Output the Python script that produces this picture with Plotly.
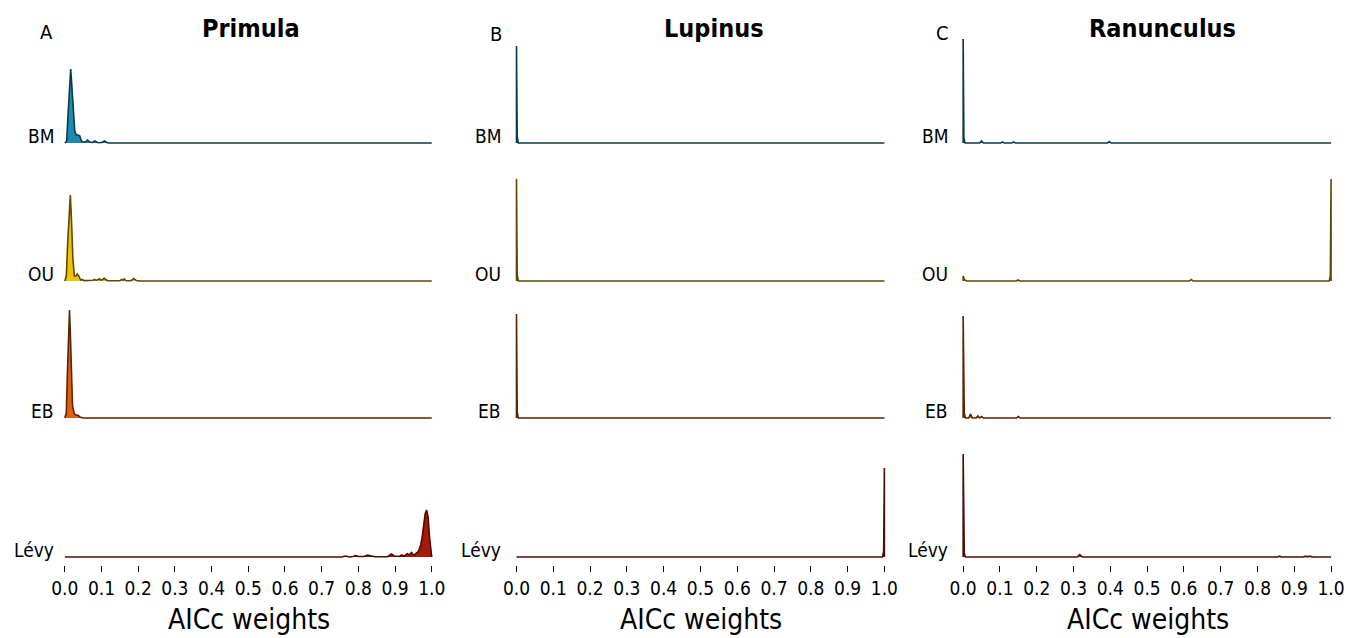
import plotly.graph_objects as go

# ---------------- data (AICc weight densities, scaled) ----------------
genera = ["Primula", "Lupinus", "Ranunculus"]
panel_letters = ["A", "B", "C"]
models = ["BM", "OU", "EB", "Lévy"]
tick_vals = [0.0, 0.1, 0.2, 0.3, 0.4, 0.5, 0.6, 0.7, 0.8, 0.9, 1.0]
tick_text = ["0.0", "0.1", "0.2", "0.3", "0.4", "0.5", "0.6", "0.7", "0.8", "0.9", "1.0"]

# Primula
primula_bm_x = [0.000, 0.005, 0.009, 0.013, 0.016, 0.019, 0.023, 0.027, 0.031, 0.036, 0.041, 0.045, 0.050,
                0.056, 0.062, 0.068, 0.075, 0.082, 0.089, 0.097, 0.103, 0.108, 0.114, 0.120, 1.000]
primula_bm_y = [0.00, 0.02, 0.30, 0.62, 0.74, 0.58, 0.30, 0.12, 0.08, 0.08, 0.07, 0.02, 0.01,
                0.01, 0.03, 0.01, 0.005, 0.02, 0.005, 0.003, 0.01, 0.02, 0.005, 0.0, 0.0]
primula_ou_x = [0.000, 0.004, 0.008, 0.012, 0.015, 0.018, 0.022, 0.026, 0.030, 0.034, 0.038, 0.043, 0.047,
                0.052, 0.060, 0.070, 0.077, 0.081, 0.085, 0.090, 0.094, 0.099, 0.104, 0.108, 0.112, 0.117,
                0.125, 0.140, 0.150, 0.155, 0.159, 0.162, 0.166, 0.172, 0.180, 0.188, 0.195, 0.205, 1.000]
primula_ou_y = [0.00, 0.05, 0.40, 0.76, 0.86, 0.62, 0.22, 0.05, 0.05, 0.07, 0.05, 0.01, 0.015,
                0.004, 0.003, 0.003, 0.008, 0.015, 0.008, 0.012, 0.022, 0.008, 0.015, 0.028, 0.012, 0.004,
                0.003, 0.003, 0.004, 0.015, 0.008, 0.02, 0.005, 0.003, 0.003, 0.025, 0.004, 0.0, 0.0]
primula_eb_x = [0.000, 0.004, 0.007, 0.010, 0.0127, 0.015, 0.018, 0.021, 0.025, 0.029, 0.033, 0.037,
                0.041, 0.046, 0.050, 1.000]
primula_eb_y = [0.00, 0.05, 0.45, 0.90, 1.08, 0.85, 0.40, 0.12, 0.05, 0.03, 0.03, 0.025,
                0.01, 0.003, 0.0, 0.0]
primula_levy_x = [0.0, 0.755, 0.765, 0.775, 0.785, 0.793, 0.800, 0.815, 0.825, 0.835, 0.845, 0.880, 0.890,
                  0.898, 0.905, 0.912, 0.918, 0.924, 0.929, 0.933, 0.938, 0.941, 0.945, 0.950, 0.954, 0.958,
                  0.962, 0.966, 0.970, 0.974, 0.978, 0.982, 0.986, 0.990, 0.994, 0.998, 1.0]
primula_levy_y = [0.0, 0.0, 0.01, 0.0, 0.005, 0.015, 0.005, 0.005, 0.018, 0.012, 0.003, 0.003, 0.03,
                  0.01, 0.01, 0.005, 0.02, 0.01, 0.02, 0.035, 0.02, 0.03, 0.045, 0.02, 0.025, 0.04,
                  0.05, 0.08, 0.12, 0.20, 0.32, 0.43, 0.47, 0.40, 0.20, 0.03, 0.0]

# Lupinus
lupinus_bm_x = [0.0, 0.0, 0.002, 0.005, 1.0]
lupinus_bm_y = [0.0, 0.97, 0.06, 0.0, 0.0]
lupinus_ou_x = [0.0, 0.0, 0.002, 0.005, 1.0]
lupinus_ou_y = [0.0, 1.02, 0.06, 0.0, 0.0]
lupinus_eb_x = [0.0, 0.0, 0.002, 0.005, 1.0]
lupinus_eb_y = [0.0, 1.04, 0.06, 0.0, 0.0]
lupinus_levy_x = [0.0, 0.995, 0.998, 1.0, 1.0]
lupinus_levy_y = [0.0, 0.0, 0.06, 0.89, 0.0]

# Ranunculus
ranunculus_bm_x = [0.0, 0.0, 0.002, 0.005, 0.045, 0.050, 0.055, 0.102, 0.107, 0.112, 0.132, 0.137, 0.142,
                   0.392, 0.397, 0.402, 1.0]
ranunculus_bm_y = [0.0, 1.04, 0.05, 0.0, 0.0, 0.02, 0.0, 0.0, 0.01, 0.0, 0.0, 0.01, 0.0,
                   0.0, 0.012, 0.0, 0.0]
ranunculus_ou_x = [0.0, 0.0, 0.004, 0.010, 0.144, 0.149, 0.154, 0.615, 0.620, 0.625, 0.995, 0.998, 1.0, 1.0]
ranunculus_ou_y = [0.0, 0.05, 0.01, 0.0, 0.0, 0.01, 0.0, 0.0, 0.015, 0.0, 0.0, 0.05, 1.02, 0.0]
ranunculus_eb_x = [0.0, 0.0, 0.003, 0.006, 0.015, 0.020, 0.025, 0.035, 0.040, 0.045, 0.050, 0.055,
                   0.145, 0.150, 0.155, 1.0]
ranunculus_eb_y = [0.0, 1.02, 0.05, 0.0, 0.0, 0.04, 0.0, 0.0, 0.02, 0.0, 0.015, 0.0,
                   0.0, 0.015, 0.0, 0.0]
ranunculus_levy_x = [0.0, 0.0, 0.003, 0.006, 0.310, 0.317, 0.324, 0.805, 0.810, 0.815, 0.855, 0.860, 0.865,
                     0.925, 0.930, 0.935, 0.940, 0.945, 0.950, 1.0]
ranunculus_levy_y = [0.0, 1.03, 0.04, 0.0, 0.0, 0.025, 0.0, 0.0, 0.006, 0.0, 0.0, 0.008, 0.0,
                     0.0, 0.008, 0.002, 0.008, 0.006, 0.0, 0.0]

series = [
    [(primula_bm_x, primula_bm_y), (primula_ou_x, primula_ou_y),
     (primula_eb_x, primula_eb_y), (primula_levy_x, primula_levy_y)],
    [(lupinus_bm_x, lupinus_bm_y), (lupinus_ou_x, lupinus_ou_y),
     (lupinus_eb_x, lupinus_eb_y), (lupinus_levy_x, lupinus_levy_y)],
    [(ranunculus_bm_x, ranunculus_bm_y), (ranunculus_ou_x, ranunculus_ou_y),
     (ranunculus_eb_x, ranunculus_eb_y), (ranunculus_levy_x, ranunculus_levy_y)],
]

fill_colors = ["#1b8cb0", "#f2c200", "#e0600e", "#a51c06"]
line_colors = ["#0b3a48", "#5e4800", "#5e2200", "#4e0c02"]

# ---------------- layout geometry ----------------
W, H = 1361, 638
# the rendered plot occupies a slightly narrower box offset from the left edge
X_OFF, W_EFF = 8, 1345
FONT = "DejaVu Sans Condensed, Liberation Sans Narrow, Roboto, sans-serif"
col_px = [(63, 431), (516, 885), (964, 1333)]     # pixel of x=0 and x=1
row_base_px = [143, 281, 418, 557]                 # baseline pixel of each ridge
label_right_px = [54, 502, 951]
title_center_px = [250, 714, 1164]
letter_center_px = [(45, 32), (495, 34), (943, 33)]
XPAD = 0.01
Y0, Y1 = -0.08, 1.12
PX_PER_UNIT = 100


def px_x(p):
    return (p - X_OFF) / W_EFF


fig = go.Figure()
layout = dict(
    width=W, height=H, margin=dict(l=0, r=0, t=0, b=0),
    paper_bgcolor="white", plot_bgcolor="rgba(0,0,0,0)",
    showlegend=False, font=dict(family=FONT, color="black"),
)
annotations = []

for c in range(3):
    p0, p1 = col_px[c]
    ppu = (p1 - p0)
    dx0 = px_x(p0 - XPAD * ppu)
    dx1 = px_x(p1 + XPAD * ppu)
    for r in range(4):
        k = r * 3 + c + 1
        xa = "x" if k == 1 else f"x{k}"
        ya = "y" if k == 1 else f"y{k}"
        xs, ys = series[c][r]
        fig.add_trace(go.Scatter(
            x=xs, y=ys, mode="lines", fill="tozeroy",
            fillcolor=fill_colors[r], line=dict(color=line_colors[r], width=1.6),
            xaxis=xa, yaxis=ya, hoverinfo="skip",
        ))
        base = row_base_px[r]
        bot_px = base - Y0 * PX_PER_UNIT
        top_px = base - Y1 * PX_PER_UNIT
        bottom_row = (r == 3)
        layout["xaxis" if k == 1 else f"xaxis{k}"] = dict(
            domain=[dx0, dx1], range=[-XPAD, 1 + XPAD], anchor=ya,
            showgrid=False, zeroline=False, showline=False,
            tickvals=tick_vals if bottom_row else [],
            ticktext=tick_text if bottom_row else [],
            showticklabels=bottom_row,
            ticks="outside" if bottom_row else "", ticklen=6, tickwidth=1, tickcolor="black",
            tickfont=dict(family=FONT, size=19, color="black"),
            fixedrange=True,
        )
        layout["yaxis" if k == 1 else f"yaxis{k}"] = dict(
            domain=[1 - bot_px / H, 1 - top_px / H], range=[Y0, Y1], anchor=xa,
            showgrid=False, zeroline=False, showline=False, showticklabels=False,
            ticks="", fixedrange=True,
        )
        annotations.append(dict(
            text=models[r], xref="paper", x=px_x(label_right_px[c]), xanchor="right",
            yref=ya, y=0, yanchor="middle", yshift=7, showarrow=False,
            font=dict(family=FONT, size=19, color="black"),
        ))
    # title
    annotations.append(dict(
        text=f"<b>{genera[c]}</b>", xref="paper", yref="paper",
        x=px_x(title_center_px[c]), y=1 - 28 / H, xanchor="center", yanchor="middle",
        showarrow=False, font=dict(family=FONT, size=25, color="black"),
    ))
    # panel letter
    lx, ly = letter_center_px[c]
    annotations.append(dict(
        text=panel_letters[c], xref="paper", yref="paper",
        x=px_x(lx), y=1 - ly / H, xanchor="center", yanchor="middle",
        showarrow=False, font=dict(family=FONT, size=20, color="black"),
    ))
    # axis title
    annotations.append(dict(
        text="AICc weights", xref="paper", yref="paper",
        x=px_x((p0 + p1) / 2 + 1), y=1 - 619 / H, xanchor="center", yanchor="middle",
        showarrow=False, font=dict(family=FONT, size=28, color="black"),
    ))

layout["annotations"] = annotations
fig.update_layout(**layout)
fig.write_html("out.html")
